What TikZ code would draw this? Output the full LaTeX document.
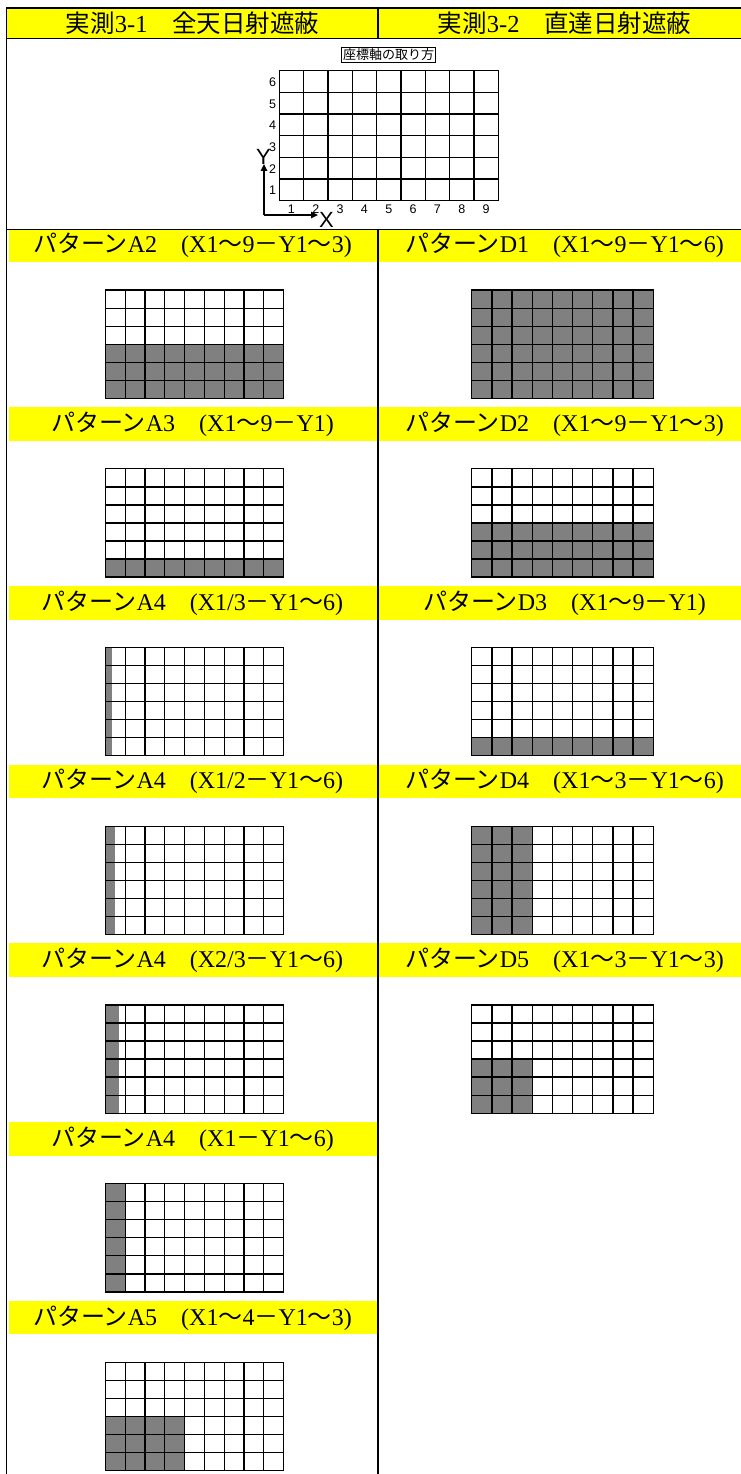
\documentclass[tikz,border=0pt]{standalone}
\usepackage{fontspec}
\setmainfont{Liberation Serif}
\newfontfamily\cjk{Noto Sans CJK JP}
\newfontfamily\axf{Liberation Sans}
\usetikzlibrary{arrows.meta}
\definecolor{band}{HTML}{FFFF00}
\definecolor{shade}{HTML}{808080}
\newcommand\jt{{\cjk ～}}
\newcommand\jm{{\cjk －}}
\newcommand\jsp{{\cjk 　}}
\newcommand\pat[2]{{\cjk パターン}#1\jsp(#2)}
% left column band: #1 = row index, #2 = node name, #3 = text
\newcommand\bandL[3]{%
  \fill[band] (8.5,{228.6+178.7*#1}) rectangle (378,{262.1+178.7*#1});
  \node[bandtext] (#2) at (192.5,{245.6+178.7*#1}) {#3};}
\newcommand\bandR[3]{%
  \fill[band] (378,{228.6+178.7*#1}) rectangle (741,{262.1+178.7*#1});
  \node[bandtext] (#2) at (564.5,{245.6+178.7*#1}) {#3};}
% cell grid: #1 = left x, #2 = row index, #3 = column width, #4 = fills
\newcommand\cellgrid[4]{%
  \begin{scope}[shift={(#1,{290.1+178.7*#2+108.3})}, xscale=#3, yscale=-18.05]
    #4
    \foreach \i in {0,...,9} \draw[gridline] (\i,0) -- (\i,6);
    \foreach \j in {0,...,6} \draw[gridline] (0,\j) -- (9,\j);
  \end{scope}}
\tikzset{
  frame/.style={line width=1.6pt, black},
  gridline/.style={line width=1.3pt, black, line cap=rect},
  bandtext/.style={font=\fontsize{24}{26}\selectfont, inner sep=0pt, anchor=center},
  headtext/.style={font=\fontsize{24.5}{26}\selectfont, inner sep=0pt, anchor=center},
  axnum/.style={font=\axf\fontsize{12.5}{12.5}\selectfont, inner sep=0pt, anchor=center},
  axletter/.style={font=\axf\fontsize{22}{22}\selectfont, inner sep=0pt, anchor=center},
  axarrow/.style={line width=1.4pt, -{Triangle[length=7pt,width=6.5pt]}},
  shaded/.style={fill=shade}
}
\begin{document}
\begin{tikzpicture}[x=1pt,y=-1pt]
\useasboundingbox[fill=white] (0,0) rectangle (741,1474);

% header
\fill[band] (6.5,8) rectangle (741,38.5);
\node[headtext] (h1) at (192.5,23.5) {{\cjk 実測}3-1{\cjk 　全天日射遮蔽}};
\node[headtext] (h2) at (564.5,23.5) {{\cjk 実測}3-2{\cjk 　直達日射遮蔽}};

% axis explanation
\node[draw, line width=1.3pt, inner sep=1.8pt, font=\cjk\fontsize{13}{13}\selectfont] (axtitle) at (388.5,55) {座標軸の取り方};
\begin{scope}[shift={(279.3,200.7)}, xscale=24.33, yscale=-21.67]
  \foreach \i in {0,...,9} \draw[gridline, line width=1.5pt] (\i,0) -- (\i,6);
  \foreach \j in {0,...,6} \draw[gridline, line width=1.5pt] (0,\j) -- (9,\j);
\end{scope}
\foreach \r in {1,...,6}
  \node[axnum] (ay\r) at (272.5,{200.7-21.67*\r+11.5}) {\r};
\foreach \c in {1,...,9}
  \node[axnum] (ax\c) at ({279.3+24.33*\c-12.2},209.5) {\c};
\coordinate (org) at (264,215);
\coordinate (ytip) at (264,164);
\coordinate (xtip) at (318,215);
\draw[axarrow] (org) -- (ytip);
\draw[axarrow] (org) -- (xtip);
\node[axletter] (ylab) at (263.5,157) {Y};
\node[axletter] (xlab) at (326.5,220) {X};

% bands
\bandL{0}{la2}{\pat{A2}{X1\jt 9\jm Y1\jt 3}}
\bandL{1}{la3}{\pat{A3}{X1\jt 9\jm Y1}}
\bandL{2}{la4a}{\pat{A4}{X1/3\jm Y1\jt 6}}
\bandL{3}{la4b}{\pat{A4}{X1/2\jm Y1\jt 6}}
\bandL{4}{la4c}{\pat{A4}{X2/3\jm Y1\jt 6}}
\bandL{5}{la4d}{\pat{A4}{X1\jm Y1\jt 6}}
\bandL{6}{la5}{\pat{A5}{X1\jt 4\jm Y1\jt 3}}
\bandR{0}{ld1}{\pat{D1}{X1\jt 9\jm Y1\jt 6}}
\bandR{1}{ld2}{\pat{D2}{X1\jt 9\jm Y1\jt 3}}
\bandR{2}{ld3}{\pat{D3}{X1\jt 9\jm Y1}}
\bandR{3}{ld4}{\pat{D4}{X1\jt 3\jm Y1\jt 6}}
\bandR{4}{ld5}{\pat{D5}{X1\jt 3\jm Y1\jt 3}}

% grids, left column
\cellgrid{105.5}{0}{19.78}{\fill[shaded] (0,0) rectangle (9,3);}
\cellgrid{105.5}{1}{19.78}{\fill[shaded] (0,0) rectangle (9,1);}
\cellgrid{105.5}{2}{19.78}{\fill[shaded] (0,0) rectangle (0.3333,6);}
\cellgrid{105.5}{3}{19.78}{\fill[shaded] (0,0) rectangle (0.5,6);}
\cellgrid{105.5}{4}{19.78}{\fill[shaded] (0,0) rectangle (0.6667,6);}
\cellgrid{105.5}{5}{19.78}{\fill[shaded] (0,0) rectangle (1,6);}
\cellgrid{105.5}{6}{19.78}{\fill[shaded] (0,0) rectangle (4,3);}
% grids, right column
\cellgrid{471.7}{0}{20.18}{\fill[shaded] (0,0) rectangle (9,6);}
\cellgrid{471.7}{1}{20.18}{\fill[shaded] (0,0) rectangle (9,3);}
\cellgrid{471.7}{2}{20.18}{\fill[shaded] (0,0) rectangle (9,1);}
\cellgrid{471.7}{3}{20.18}{\fill[shaded] (0,0) rectangle (3,6);}
\cellgrid{471.7}{4}{20.18}{\fill[shaded] (0,0) rectangle (3,3);}

% table frame
\draw[frame] (6.5,1474) -- (6.5,8) -- (741,8);
\draw[frame] (6.5,38.5) -- (741,38.5);
\draw[frame] (6.5,229.5) -- (741,229.5);
\draw[frame] (378,8) -- (378,38.5);
\draw[frame] (378,229.5) -- (378,1474);
\end{tikzpicture}
\end{document}
